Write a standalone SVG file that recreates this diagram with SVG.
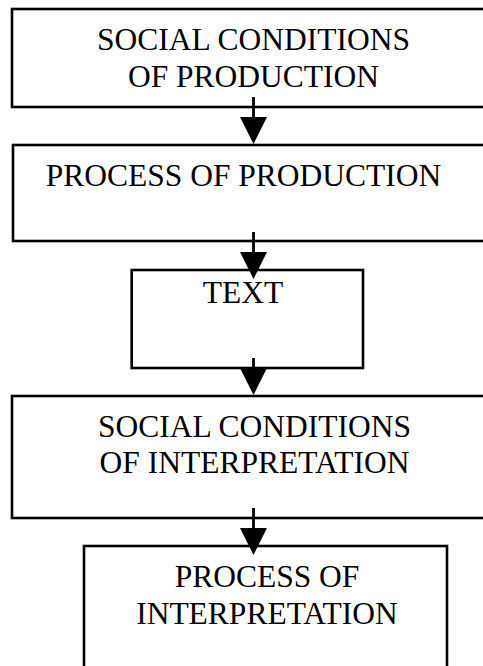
<svg xmlns="http://www.w3.org/2000/svg" width="483" height="666" viewBox="0 0 483 666">
<style>
.box{fill:#fff;stroke:#000;stroke-width:2.6}
.lbl{font-family:"Liberation Serif","Times New Roman",serif;font-size:31.5px;fill:#000;text-anchor:middle}
.stem{stroke:#000;stroke-width:2.8}
</style>
<defs>
<marker id="ah" markerUnits="userSpaceOnUse" markerWidth="28" markerHeight="28" refX="0" refY="13.5" orient="auto" viewBox="0 0 28 28">
<path d="M0,0 L27,13.5 L0,27 z" fill="#000"/>
</marker>
</defs>
<rect width="483" height="666" fill="#fff"/>
<g id="n1">
<rect class="box" x="12" y="9" width="490" height="98"/>
<text class="lbl" x="253.5" y="50">SOCIAL CONDITIONS</text>
<text class="lbl" x="253.5" y="87">OF PRODUCTION</text>
</g>
<g id="n2">
<rect class="box" x="13" y="145" width="490" height="96"/>
<text class="lbl" x="243.5" y="186">PROCESS OF PRODUCTION</text>
</g>
<g id="n3">
<rect class="box" x="131.7" y="270" width="231.3" height="98"/>
<text class="lbl" x="243" y="303">TEXT</text>
</g>
<g id="n4">
<rect class="box" x="12" y="396" width="490" height="122"/>
<text class="lbl" x="254.5" y="437">SOCIAL CONDITIONS</text>
<text class="lbl" x="254.5" y="473">OF INTERPRETATION</text>
</g>
<g id="n5">
<rect class="box" x="84" y="546" width="363" height="140"/>
<text class="lbl" x="267" y="587">PROCESS OF</text>
<text class="lbl" x="267" y="624">INTERPRETATION</text>
</g>
<g id="connectors">
<line class="stem" x1="253.5" y1="97" x2="253.5" y2="117" marker-end="url(#ah)"/>
<line class="stem" x1="253.5" y1="232" x2="253.5" y2="252" marker-end="url(#ah)"/>
<line class="stem" x1="253.5" y1="358" x2="253.5" y2="368" marker-end="url(#ah)"/>
<line class="stem" x1="253.5" y1="508" x2="253.5" y2="528" marker-end="url(#ah)"/>
</g>
</svg>
